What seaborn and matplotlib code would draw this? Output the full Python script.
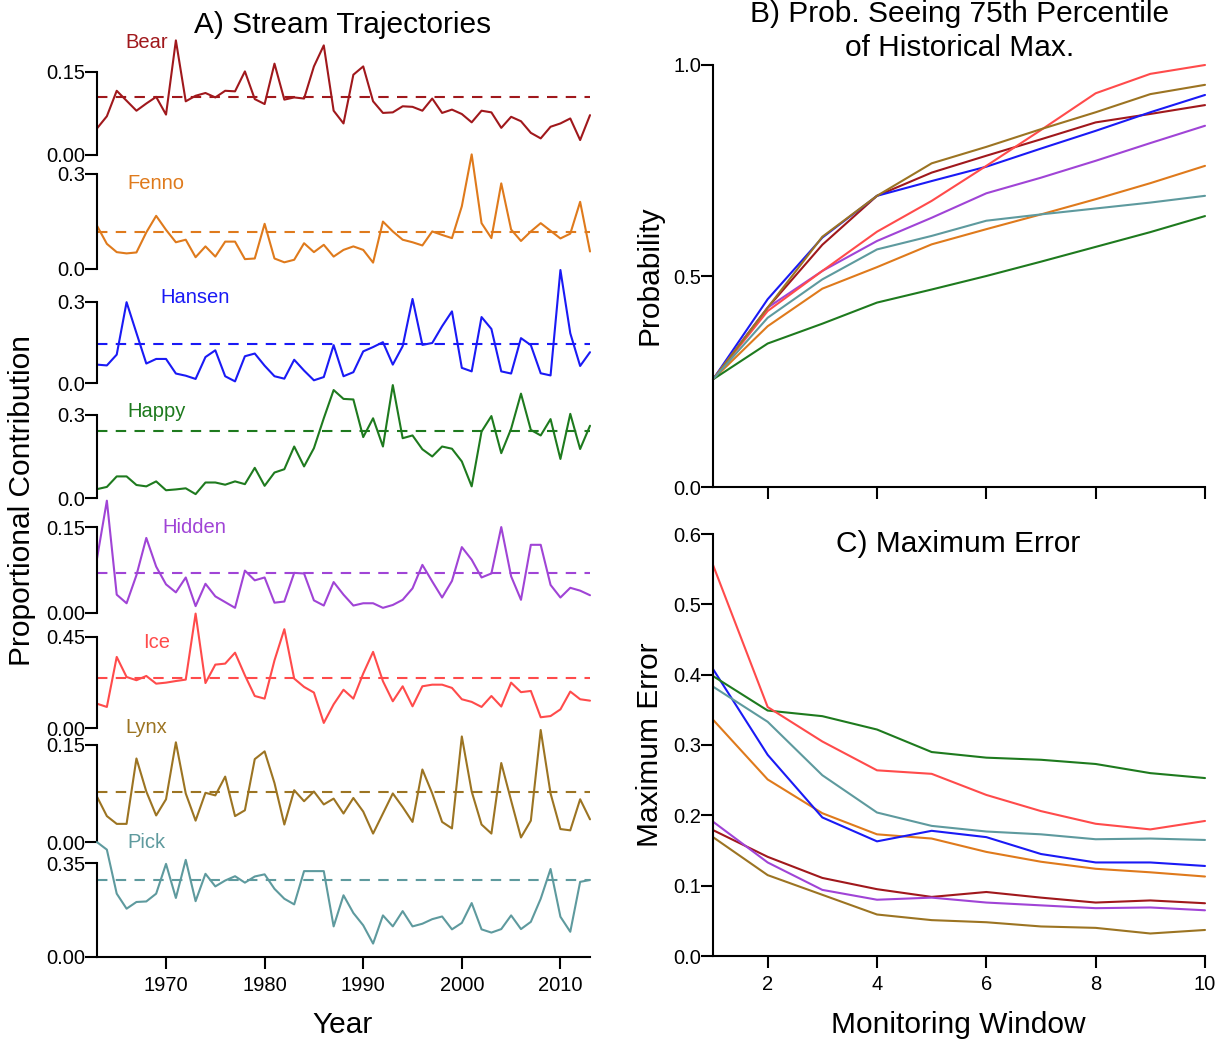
import matplotlib
matplotlib.use("Agg")
import matplotlib.pyplot as plt
import seaborn as sns
import pandas as pd

# ---------------- data ----------------
years = list(range(1963, 2014))
streams = ["Bear", "Fenno", "Hansen", "Happy", "Hidden", "Ice", "Lynx", "Pick"]
colors = ["#A0181C", "#DF7A1C", "#1A1AF5", "#1E7A1E", "#A044D6", "#FF4B4B", "#9C7422", "#5E9A9E"]

bear = [0.048, 0.070, 0.116, 0.098, 0.080, 0.093, 0.105, 0.073, 0.207, 0.097,
        0.107, 0.112, 0.104, 0.116, 0.115, 0.151, 0.101, 0.092, 0.165, 0.100,
        0.104, 0.102, 0.160, 0.198, 0.080, 0.057, 0.145, 0.160, 0.097, 0.076,
        0.077, 0.088, 0.087, 0.080, 0.102, 0.076, 0.082, 0.074, 0.059, 0.080,
        0.077, 0.049, 0.069, 0.061, 0.040, 0.030, 0.051, 0.057, 0.066, 0.027, 0.072]
fenno = [0.136, 0.079, 0.053, 0.049, 0.052, 0.115, 0.167, 0.123, 0.084, 0.092,
         0.037, 0.071, 0.039, 0.086, 0.086, 0.031, 0.033, 0.142, 0.033, 0.021,
         0.029, 0.081, 0.053, 0.076, 0.039, 0.060, 0.071, 0.060, 0.020, 0.149,
         0.118, 0.092, 0.084, 0.074, 0.118, 0.107, 0.097, 0.197, 0.360, 0.144,
         0.097, 0.269, 0.124, 0.088, 0.118, 0.144, 0.120, 0.096, 0.111, 0.211, 0.055]
hansen = [0.068, 0.065, 0.105, 0.299, 0.185, 0.072, 0.089, 0.089, 0.035, 0.027,
          0.015, 0.096, 0.121, 0.025, 0.006, 0.099, 0.109, 0.064, 0.025, 0.016,
          0.086, 0.046, 0.010, 0.022, 0.140, 0.025, 0.040, 0.117, 0.133, 0.151,
          0.068, 0.136, 0.311, 0.141, 0.148, 0.210, 0.265, 0.056, 0.043, 0.244,
          0.200, 0.043, 0.035, 0.166, 0.140, 0.036, 0.028, 0.418, 0.184, 0.063, 0.114]
happy = [0.032, 0.040, 0.078, 0.078, 0.047, 0.042, 0.060, 0.028, 0.031, 0.035,
         0.014, 0.056, 0.056, 0.048, 0.060, 0.050, 0.109, 0.044, 0.092, 0.104,
         0.186, 0.114, 0.180, 0.288, 0.390, 0.358, 0.356, 0.220, 0.288, 0.186,
         0.408, 0.216, 0.226, 0.176, 0.150, 0.186, 0.178, 0.132, 0.042, 0.240,
         0.296, 0.162, 0.250, 0.377, 0.246, 0.226, 0.285, 0.141, 0.304, 0.177, 0.261]
hidden = [0.095, 0.196, 0.032, 0.017, 0.066, 0.131, 0.081, 0.050, 0.036, 0.062,
          0.012, 0.051, 0.029, 0.019, 0.009, 0.074, 0.057, 0.062, 0.018, 0.020,
          0.070, 0.069, 0.022, 0.013, 0.054, 0.032, 0.013, 0.017, 0.017, 0.009,
          0.014, 0.023, 0.043, 0.084, 0.055, 0.027, 0.056, 0.115, 0.093, 0.062,
          0.069, 0.150, 0.064, 0.023, 0.119, 0.119, 0.049, 0.027, 0.044, 0.039, 0.031]
ice = [0.120, 0.104, 0.351, 0.252, 0.236, 0.257, 0.219, 0.224, 0.232, 0.239,
       0.565, 0.222, 0.313, 0.318, 0.372, 0.260, 0.158, 0.145, 0.334, 0.488,
       0.244, 0.203, 0.175, 0.025, 0.117, 0.189, 0.145, 0.269, 0.376, 0.231,
       0.132, 0.206, 0.107, 0.206, 0.214, 0.214, 0.198, 0.142, 0.129, 0.104,
       0.158, 0.106, 0.224, 0.177, 0.183, 0.053, 0.059, 0.092, 0.180, 0.142, 0.135]
lynx = [0.070, 0.040, 0.028, 0.028, 0.129, 0.078, 0.041, 0.066, 0.154, 0.075,
        0.033, 0.076, 0.072, 0.101, 0.040, 0.049, 0.128, 0.140, 0.091, 0.027,
        0.080, 0.063, 0.078, 0.058, 0.067, 0.044, 0.068, 0.047, 0.013, 0.044,
        0.075, 0.054, 0.031, 0.112, 0.075, 0.031, 0.021, 0.163, 0.078, 0.027,
        0.013, 0.122, 0.064, 0.007, 0.033, 0.173, 0.075, 0.020, 0.018, 0.066, 0.035]
pick = [0.428, 0.400, 0.236, 0.180, 0.205, 0.207, 0.236, 0.347, 0.220, 0.362,
        0.208, 0.310, 0.263, 0.285, 0.301, 0.277, 0.300, 0.308, 0.254, 0.217,
        0.196, 0.320, 0.320, 0.320, 0.114, 0.230, 0.164, 0.118, 0.050, 0.155,
        0.114, 0.171, 0.114, 0.124, 0.141, 0.151, 0.103, 0.127, 0.201, 0.103,
        0.091, 0.104, 0.155, 0.104, 0.131, 0.217, 0.328, 0.150, 0.094, 0.280, 0.287]
series = [bear, fenno, hansen, happy, hidden, ice, lynx, pick]

means = [0.105, 0.117, 0.144, 0.242, 0.070, 0.247, 0.077, 0.287]
top_ticks = [0.15, 0.3, 0.3, 0.3, 0.15, 0.45, 0.15, 0.35]
tick_labels = [["0.00", "0.15"], ["0.0", "0.3"], ["0.0", "0.3"], ["0.0", "0.3"],
               ["0.00", "0.15"], ["0.00", "0.45"], ["0.00", "0.15"], ["0.00", "0.35"]]
year_ticks = [1970, 1980, 1990, 2000, 2010]

window = list(range(1, 11))
prob_bear = [0.255, 0.425, 0.574, 0.690, 0.745, 0.785, 0.824, 0.864, 0.884, 0.905]
prob_fenno = [0.255, 0.381, 0.470, 0.521, 0.575, 0.611, 0.646, 0.682, 0.720, 0.761]
prob_hansen = [0.255, 0.445, 0.591, 0.690, 0.725, 0.759, 0.802, 0.844, 0.888, 0.929]
prob_happy = [0.255, 0.340, 0.387, 0.437, 0.468, 0.500, 0.534, 0.569, 0.604, 0.642]
prob_hidden = [0.255, 0.425, 0.512, 0.583, 0.638, 0.696, 0.733, 0.773, 0.815, 0.856]
prob_ice = [0.255, 0.417, 0.512, 0.605, 0.678, 0.761, 0.846, 0.933, 0.979, 1.000]
prob_lynx = [0.255, 0.425, 0.593, 0.690, 0.767, 0.806, 0.848, 0.888, 0.931, 0.953]
prob_pick = [0.255, 0.401, 0.492, 0.563, 0.595, 0.631, 0.646, 0.660, 0.674, 0.690]
probs = [prob_bear, prob_fenno, prob_hansen, prob_happy, prob_hidden, prob_ice, prob_lynx, prob_pick]

err_bear = [0.179, 0.141, 0.111, 0.095, 0.084, 0.091, 0.083, 0.076, 0.079, 0.075]
err_fenno = [0.336, 0.251, 0.203, 0.173, 0.167, 0.148, 0.134, 0.124, 0.119, 0.113]
err_hansen = [0.408, 0.286, 0.197, 0.163, 0.178, 0.169, 0.145, 0.133, 0.133, 0.128]
err_happy = [0.398, 0.349, 0.341, 0.322, 0.290, 0.282, 0.279, 0.273, 0.260, 0.253]
err_hidden = [0.191, 0.133, 0.094, 0.080, 0.083, 0.076, 0.072, 0.068, 0.069, 0.065]
err_ice = [0.556, 0.354, 0.305, 0.264, 0.259, 0.229, 0.206, 0.188, 0.180, 0.192]
err_lynx = [0.169, 0.115, 0.087, 0.059, 0.051, 0.048, 0.042, 0.040, 0.032, 0.037]
err_pick = [0.383, 0.333, 0.257, 0.204, 0.185, 0.177, 0.173, 0.166, 0.167, 0.165]
errs = [err_bear, err_fenno, err_hansen, err_happy, err_hidden, err_ice, err_lynx, err_pick]

# ---------------- style ----------------
sns.set_style("ticks")
plt.rcParams["font.family"] = ["Liberation Sans", "DejaVu Sans"]
plt.rcParams["axes.linewidth"] = 1.5
plt.rcParams["xtick.major.width"] = 1.5
plt.rcParams["ytick.major.width"] = 1.5
plt.rcParams["xtick.color"] = "black"
plt.rcParams["ytick.color"] = "black"
plt.rcParams["xtick.labelcolor"] = "black"
plt.rcParams["ytick.labelcolor"] = "black"
plt.rcParams["axes.edgecolor"] = "black"
plt.rcParams["text.color"] = "black"
plt.rcParams["axes.labelcolor"] = "black"

W, H = 1226, 1045
fig = plt.figure(figsize=(W / 100, H / 100), dpi=100)

TICK_FS = 14.5
LABEL_FS = 21.5
LW = 1.5

# ---------------- panel A ----------------
left_px, right_px = 97, 590
zero_px = [155, 269, 383, 498, 613, 728, 842, 957]
panel_h = 114.6
ylim_tops = [0.207, 0.36, 0.424, 0.414, 0.200, 0.566, 0.177, 0.427]
label_pos = [(1968.0, 0.985), (1969.0, 0.742), (1972.9, 0.742), (1969.0, 0.759),
             (1972.9, 0.750), (1969.0, 0.750), (1968.0, 1.0), (1968.0, 0.995)]

for k, name in enumerate(streams):
    ax = fig.add_axes([left_px / W, 1 - zero_px[k] / H, (right_px - left_px) / W, panel_h / H])
    ax.patch.set_alpha(0)
    df = pd.DataFrame({"Year": years, "Value": series[k]})
    sns.lineplot(data=df, x="Year", y="Value", ax=ax, color=colors[k], lw=LW)
    for ln in ax.lines:
        ln.set_clip_on(False)
    ax.axhline(means[k], color=colors[k], lw=LW, ls=(0, (5, 4)))
    ax.set_xlim(1963, 2013)
    ax.set_ylim(0, ylim_tops[k])
    ax.set_yticks([0, top_ticks[k]])
    ax.set_yticklabels(tick_labels[k], fontsize=TICK_FS)
    ax.spines["left"].set_bounds(0, top_ticks[k])
    ax.spines["top"].set_visible(False)
    ax.spines["right"].set_visible(False)
    ax.tick_params(axis="y", length=8.5, pad=0)
    ax.set_xlabel("")
    ax.set_ylabel("")
    tr = ax.get_xaxis_transform()
    ax.text(label_pos[k][0], label_pos[k][1], name, color=colors[k], fontsize=14.5,
            ha="center", va="center", transform=tr)
    if k < len(streams) - 1:
        ax.spines["bottom"].set_visible(False)
        ax.tick_params(axis="x", bottom=False, labelbottom=False)
    else:
        ax.set_xticks(year_ticks)
        ax.set_xticklabels([str(y) for y in year_ticks], fontsize=TICK_FS)
        ax.tick_params(axis="x", length=8.5, pad=5)

fig.text(343 / W, 1 - 25 / H, "A) Stream Trajectories", fontsize=LABEL_FS, ha="center", va="center")
fig.text(343 / W, 1 - 1025 / H, "Year", fontsize=LABEL_FS, ha="center", va="center")
fig.text(22 / W, 1 - 500 / H, "Proportional Contribution", fontsize=LABEL_FS,
         ha="center", va="center", rotation=90)

# ---------------- panels B and C ----------------
rl, rr = 713, 1205
long_prob = pd.DataFrame({
    "Window": window * len(streams),
    "Value": sum(probs, []),
    "Stream": [s for s in streams for _ in window],
})
long_err = pd.DataFrame({
    "Window": window * len(streams),
    "Value": sum(errs, []),
    "Stream": [s for s in streams for _ in window],
})
palette = dict(zip(streams, colors))

axB = fig.add_axes([rl / W, 1 - 487 / H, (rr - rl) / W, (487 - 65) / H])
sns.lineplot(data=long_prob, x="Window", y="Value", hue="Stream", palette=palette,
             ax=axB, lw=LW, legend=False)
axB.set_xlim(1, 10)
axB.set_ylim(0, 1)
axB.set_yticks([0, 0.5, 1.0])
axB.set_yticklabels(["0.0", "0.5", "1.0"], fontsize=TICK_FS)
axB.set_xticks([2, 4, 6, 8, 10])
axB.tick_params(axis="x", labelbottom=False, length=8.5)
axB.tick_params(axis="y", length=8.5, pad=0)
axB.set_xlabel("")
axB.set_ylabel("")

axC = fig.add_axes([rl / W, 1 - 956 / H, (rr - rl) / W, (956 - 534) / H])
sns.lineplot(data=long_err, x="Window", y="Value", hue="Stream", palette=palette,
             ax=axC, lw=LW, legend=False)
axC.set_xlim(1, 10)
axC.set_ylim(0, 0.6)
axC.set_yticks([0, 0.1, 0.2, 0.3, 0.4, 0.5, 0.6])
axC.set_yticklabels(["0.0", "0.1", "0.2", "0.3", "0.4", "0.5", "0.6"], fontsize=TICK_FS)
axC.set_xticks([2, 4, 6, 8, 10])
axC.set_xticklabels(["2", "4", "6", "8", "10"], fontsize=TICK_FS)
axC.tick_params(axis="x", length=8.5, pad=5)
axC.tick_params(axis="y", length=8.5, pad=0)
axC.set_xlabel("")
axC.set_ylabel("")

for ax in (axB, axC):
    ax.spines["top"].set_visible(False)
    ax.spines["right"].set_visible(False)
    for ln in ax.lines:
        ln.set_clip_on(False)

fig.text(960 / W, 1 - 14 / H, "B) Prob. Seeing 75th Percentile", fontsize=LABEL_FS, ha="center", va="center")
fig.text(960 / W, 1 - 48 / H, "of Historical Max.", fontsize=LABEL_FS, ha="center", va="center")
fig.text(958 / W, 1 - 544 / H, "C) Maximum Error", fontsize=LABEL_FS, ha="center", va="center")
fig.text(958 / W, 1 - 1025 / H, "Monitoring Window", fontsize=LABEL_FS, ha="center", va="center")
fig.text(650 / W, 1 - 275 / H, "Probability", fontsize=LABEL_FS, ha="center", va="center", rotation=90)
fig.text(650 / W, 1 - 745 / H, "Maximum Error", fontsize=LABEL_FS, ha="center", va="center", rotation=90)

fig.savefig("out.png", dpi=100)
